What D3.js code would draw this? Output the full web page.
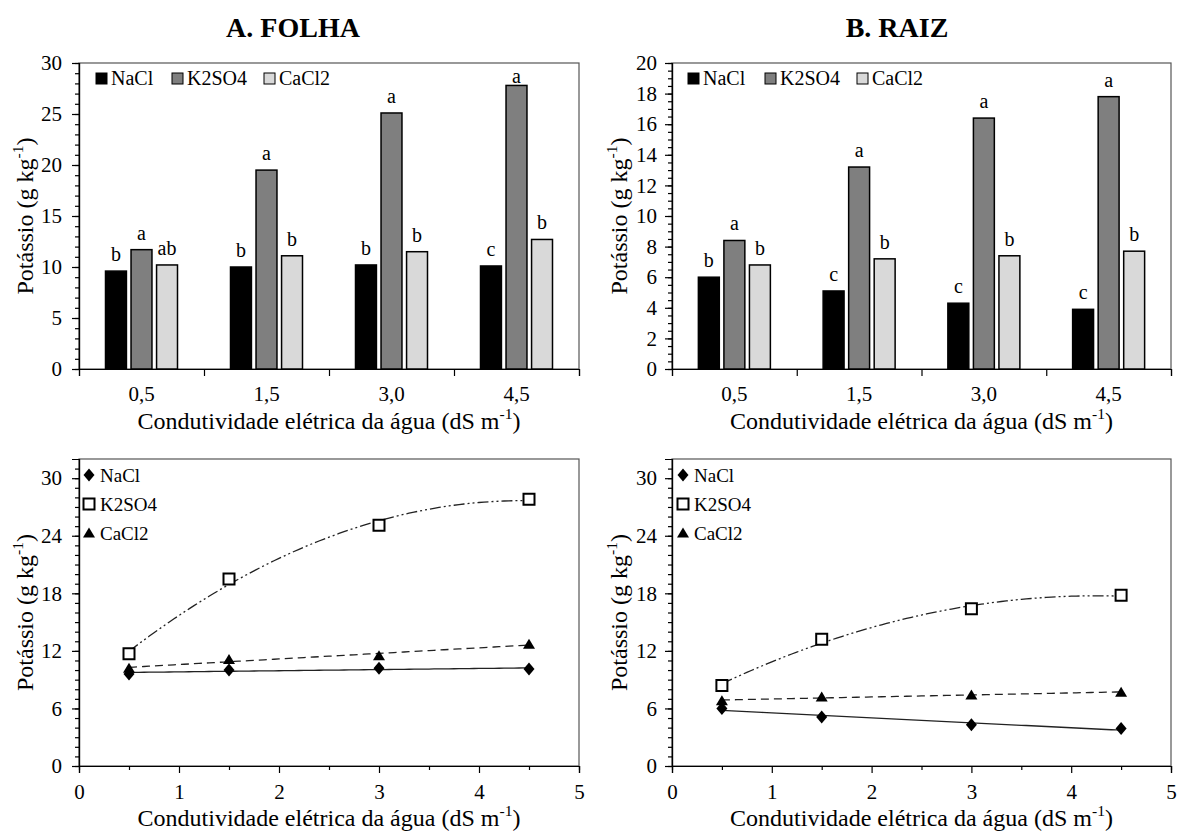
<!DOCTYPE html>
<meta charset="utf-8">
<style>
body { margin: 0; background: #fff; }
text { font-family: "Liberation Serif", "Times New Roman", serif; fill: #000; }
.frame { fill: none; stroke: #555; stroke-width: 1.2px; }
.axis path, .axis line { stroke: #000; stroke-width: 1.2px; }
.axis text { font-family: "Liberation Serif", "Times New Roman", serif; }
.title { font-weight: bold; font-size: 28px; }
</style>
<svg width="1179" height="834"></svg>
<script src="https://d3js.org/d3.v7.min.js"></script>
<script>

// ---- data ----
var categories = ["0,5", "1,5", "3,0", "4,5"];
var ceLevels = [0.5, 1.5, 3.0, 4.5];
var saltNames = ["NaCl", "K2SO4", "CaCl2"];
var saltFills = ["#000000", "#7f7f7f", "#d9d9d9"];

// A. FOLHA (g kg-1)
var folhaNaCl  = [9.6, 10.0, 10.2, 10.1];
var folhaK2SO4 = [11.7, 19.5, 25.1, 27.8];
var folhaCaCl2 = [10.2, 11.1, 11.5, 12.7];
var folhaLetters = [["b", "b", "b", "c"], ["a", "a", "a", "a"], ["ab", "b", "b", "b"]];

// B. RAIZ (g kg-1)
var raizNaCl  = [6.0, 5.1, 4.3, 3.9];
var raizK2SO4 = [8.4, 13.2, 16.4, 17.8];
var raizCaCl2 = [6.8, 7.2, 7.4, 7.7];
var raizLetters = [["b", "c", "c", "c"], ["a", "a", "a", "a"], ["b", "b", "b", "b"]];

// trend lines: degree of the fitted polynomial per salt
var fitDegree = [1, 2, 1];

var svg = d3.select("svg");

svg.append("text").attr("class", "title").attr("x", 293).attr("y", 37)
    .attr("text-anchor", "middle").text("A. FOLHA");
svg.append("text").attr("class", "title").attr("x", 897).attr("y", 37)
    .attr("text-anchor", "middle").text("B. RAIZ");

function supLabel(g, main, sup, tail, size) {
  var t = g.append("text").attr("font-size", size).attr("text-anchor", "middle");
  t.append("tspan").text(main);
  t.append("tspan").attr("font-size", size * 0.65).attr("dy", -size * 0.42).text(sup);
  t.append("tspan").attr("dy", size * 0.42).text(tail);
  return t;
}

function yLabel(g, box, xPos) {
  supLabel(g, "Potássio (g kg", "-1", ")", 24)
      .attr("transform", "translate(" + xPos + "," + ((box.y0 + box.y1) / 2) + ") rotate(-90)");
}

function xLabel(g, box, yPos) {
  supLabel(g, "Condutividade elétrica da água (dS m", "-1", ")", 24)
      .attr("x", (box.x0 + box.x1) / 2).attr("y", yPos);
}

function styleAxis(sel, size) {
  sel.attr("class", "axis").attr("font-family", null).attr("font-size", size);
}

function barPanel(box, yMax, majorStep, minorStep, values, letters, legendXs, labelPad, yLabelX) {
  var g = svg.append("g");
  var x = d3.scaleBand().domain(categories).range([box.x0, box.x1]);
  var xIn = d3.scaleBand().domain(saltNames).range([-36, 36]).paddingInner(0.18);
  var xEdge = d3.scaleLinear().domain([0, categories.length]).range([box.x0, box.x1]);
  var y = d3.scaleLinear().domain([0, yMax]).range([box.y1, box.y0]);

  g.append("rect").attr("class", "frame")
      .attr("x", box.x0).attr("y", box.y0)
      .attr("width", box.x1 - box.x0).attr("height", box.y1 - box.y0);

  saltNames.forEach(function(s, i) {
    g.append("g").selectAll("rect")
      .data(values[i])
      .enter().append("rect")
        .attr("x", function(d, j) { return x(categories[j]) + x.bandwidth() / 2 + xIn(s); })
        .attr("y", function(d) { return y(d); })
        .attr("width", xIn.bandwidth())
        .attr("height", function(d) { return y(0) - y(d); })
        .style("fill", saltFills[i])
        .style("stroke", "#000")
        .style("stroke-width", 1.5);

    g.append("g").selectAll("text")
      .data(values[i])
      .enter().append("text")
        .attr("x", function(d, j) { return x(categories[j]) + x.bandwidth() / 2 + xIn(s) + xIn.bandwidth() / 2; })
        .attr("y", function(d) { return Math.max(y(d) - 10, box.y0 + 20); })
        .attr("text-anchor", "middle")
        .attr("font-size", 20)
        .text(function(d, j) { return letters[i][j]; });
  });

  // y axis: minor + major
  g.append("g").attr("transform", "translate(" + box.x0 + ",0)")
      .call(d3.axisLeft(y).tickValues(d3.range(0, yMax + 1e-6, minorStep)).tickSize(4).tickFormat(""))
      .call(styleAxis, 21);
  g.append("g").attr("transform", "translate(" + box.x0 + ",0)")
      .call(d3.axisLeft(y).tickValues(d3.range(0, yMax + 1e-6, majorStep)).tickSize(7).tickPadding(labelPad))
      .call(styleAxis, 21);

  // x axis: ticks on the category edges, labels in the middle
  g.append("g").attr("transform", "translate(0," + box.y1 + ")")
      .call(d3.axisBottom(xEdge).tickValues(d3.range(0, categories.length + 1)).tickSize(7).tickFormat(""))
      .call(styleAxis, 21);
  g.append("g").attr("transform", "translate(0," + box.y1 + ")")
      .call(d3.axisBottom(x).tickSize(0).tickPadding(17))
      .call(styleAxis, 21)
      .call(function(a) { a.select(".domain").remove(); });

  // legend
  saltNames.forEach(function(s, i) {
    g.append("rect").attr("x", legendXs[i]).attr("y", 73).attr("width", 11).attr("height", 11)
        .style("fill", saltFills[i]).style("stroke", "#000").style("stroke-width", 1);
    g.append("text").attr("x", legendXs[i] + 15).attr("y", 85).attr("font-size", 20).text(s);
  });

  yLabel(g, box, yLabelX);
  xLabel(g, box, 429);
}

function fitPoly(xs, ys, deg) {
  var n = deg + 1, A = [], r, c, k;
  for (r = 0; r < n; r++) {
    A.push([]);
    for (c = 0; c < n; c++) A[r].push(d3.sum(xs, function(v) { return Math.pow(v, r + c); }));
    A[r].push(d3.sum(xs, function(v, i) { return Math.pow(v, r) * ys[i]; }));
  }
  for (k = 0; k < n; k++) {
    for (r = k + 1; r < n; r++) {
      var f = A[r][k] / A[k][k];
      for (c = k; c <= n; c++) A[r][c] -= f * A[k][c];
    }
  }
  var coef = new Array(n);
  for (r = n - 1; r >= 0; r--) {
    var s = A[r][n];
    for (c = r + 1; c < n; c++) s -= A[r][c] * coef[c];
    coef[r] = s / A[r][r];
  }
  return function(v) { return d3.sum(coef, function(a, i) { return a * Math.pow(v, i); }); };
}

var markerPaths = [
  "M0,-6.5L5.5,0L0,6.5L-5.5,0Z",
  "M-5.5,-5.5H5.5V5.5H-5.5Z",
  "M0,-5.5L6,4.5L-6,4.5Z"
];
var markerFill = ["#000", "#fff", "#000"];
var markerStroke = [0, 2, 0];
var lineDash = [null, "11,3,2,3,2,3", "8,5"];

function linePanel(box, values, legendX, labelPad, yLabelX) {
  var g = svg.append("g");
  var x = d3.scaleLinear().domain([0, 5]).range([box.x0, box.x1]);
  var y = d3.scaleLinear().domain([0, 32]).range([box.y1, box.y0]);

  g.append("rect").attr("class", "frame")
      .attr("x", box.x0).attr("y", box.y0)
      .attr("width", box.x1 - box.x0).attr("height", box.y1 - box.y0);

  g.append("g").attr("transform", "translate(" + box.x0 + ",0)")
      .call(d3.axisLeft(y).tickValues(d3.range(0, 32, 1)).tickSize(4).tickFormat(""))
      .call(styleAxis, 21);
  g.append("g").attr("transform", "translate(" + box.x0 + ",0)")
      .call(d3.axisLeft(y).tickValues(d3.range(0, 31, 6)).tickSize(7).tickPadding(labelPad))
      .call(styleAxis, 21);
  g.append("g").attr("transform", "translate(0," + box.y1 + ")")
      .call(d3.axisBottom(x).tickValues(d3.range(0.5, 5, 1)).tickSize(4).tickFormat(""))
      .call(styleAxis, 21);
  g.append("g").attr("transform", "translate(0," + box.y1 + ")")
      .call(d3.axisBottom(x).tickValues(d3.range(0, 6, 1)).tickSize(7).tickPadding(11).tickFormat(d3.format("d")))
      .call(styleAxis, 21);

  var xs = d3.range(ceLevels[0], ceLevels[ceLevels.length - 1] + 1e-6, 0.05);
  var line = d3.line().x(function(d) { return x(d[0]); }).y(function(d) { return y(d[1]); });

  saltNames.forEach(function(s, i) {
    var f = fitPoly(ceLevels, values[i], fitDegree[i]);
    g.append("path")
        .datum(xs.map(function(v) { return [v, f(v)]; }))
        .attr("d", line)
        .style("fill", "none")
        .style("stroke", "#222")
        .style("stroke-width", 1.3)
        .style("stroke-dasharray", lineDash[i]);
  });

  saltNames.forEach(function(s, i) {
    g.append("g").selectAll("path")
      .data(values[i])
      .enter().append("path")
        .attr("d", markerPaths[i])
        .attr("transform", function(d, j) { return "translate(" + x(ceLevels[j]) + "," + y(d) + ")"; })
        .style("fill", markerFill[i])
        .style("stroke", "#000")
        .style("stroke-width", markerStroke[i]);

    var ly = 475 + i * 29;
    g.append("path").attr("d", markerPaths[i])
        .attr("transform", "translate(" + legendX + "," + ly + ")")
        .style("fill", markerFill[i]).style("stroke", "#000").style("stroke-width", markerStroke[i]);
    g.append("text").attr("x", legendX + 11).attr("y", ly + 7).attr("font-size", 19).text(s);
  });

  yLabel(g, box, yLabelX);
  xLabel(g, box, 826);
}

barPanel({x0: 79, x1: 579, y0: 63, y1: 369}, 30, 5, 1,
    [folhaNaCl, folhaK2SO4, folhaCaCl2], folhaLetters, [96, 172, 264], 10, 33);
barPanel({x0: 672, x1: 1171, y0: 63, y1: 369}, 20, 2, 0.5,
    [raizNaCl, raizK2SO4, raizCaCl2], raizLetters, [688, 765, 857], 8, 627);

linePanel({x0: 79, x1: 579, y0: 459, y1: 766}, [folhaNaCl, folhaK2SO4, folhaCaCl2], 89, 10, 33);
linePanel({x0: 672, x1: 1171, y0: 459, y1: 766}, [raizNaCl, raizK2SO4, raizCaCl2], 683, 8, 627);

</script>
